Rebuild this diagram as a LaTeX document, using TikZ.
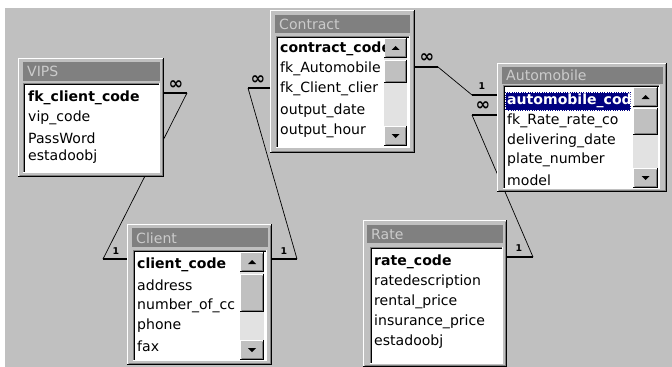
\documentclass[tikz,border=0pt]{standalone}
\usepackage{fontspec}
\setmainfont{DejaVu Sans}
\usetikzlibrary{arrows,positioning}
\definecolor{wingray}{HTML}{C0C0C0}
\definecolor{windark}{HTML}{808080}
\definecolor{winnavy}{HTML}{000080}
\definecolor{wintrack}{HTML}{E2E2E2}
\definecolor{captext}{HTML}{CBCBCB}
\tikzstyle{field}=[anchor=west,inner sep=0pt,font=\fontsize{12}{14}\selectfont]
\tikzstyle{keyfield}=[field,font=\fontsize{12}{14}\selectfont\bfseries]
\tikzstyle{caption}=[anchor=west,inner sep=0pt,text=captext,font=\fontsize{12}{14}\selectfont]
\tikzstyle{stub}=[line width=2.4pt]
\tikzstyle{link}=[line width=0.6pt]
\tikzstyle{many}=[inner sep=0pt,font=\fontsize{15}{15}\selectfont\bfseries]
\tikzstyle{one}=[inner sep=0pt,font=\fontsize{8}{8}\selectfont\bfseries]

% raised 3d frame: x1 y1 x2 y2 (y grows downwards)
\newcommand{\raisedrect}[4]{%
  \fill[wingray] (#1,#2) rectangle (#3,#4);
  \draw[white,line width=0.9pt] (#1+0.5,#4-1) -- (#1+0.5,#2+0.5) -- (#3-1,#2+0.5);
  \draw[black,line width=0.9pt] (#1,#4-0.5) -- (#3-0.5,#4-0.5) -- (#3-0.5,#2);
  \draw[windark,line width=0.9pt] (#1+1.5,#4-1.5) -- (#3-1.5,#4-1.5) -- (#3-1.5,#2+1.5);
}
% sunken list box
\newcommand{\sunkenrect}[4]{%
  \fill[white] (#1,#2) rectangle (#3,#4);
  \draw[windark,line width=0.9pt] (#1+0.5,#4) -- (#1+0.5,#2+0.5) -- (#3,#2+0.5);
  \draw[black,line width=0.9pt] (#1+1.5,#4-1) -- (#1+1.5,#2+1.5) -- (#3-1,#2+1.5);
  \draw[white,line width=0.9pt] (#1,#4-0.5) -- (#3-0.5,#4-0.5) -- (#3-0.5,#2);
}
% scroll bar: x1 x2 ytop ybottom thumbtop thumbbottom
\newcommand{\scrollbar}[6]{%
  \fill[wintrack] (#1,#3) rectangle (#2,#4);
  \raisedrect{#1}{#3}{#2}{#3+20}
  \raisedrect{#1}{#4-20}{#2}{#4}
  \raisedrect{#1}{#5}{#2}{#6}
  \fill[black] ({(#1+#2)/2-4},#3+12) -- ++(8,0) -- ++(-4,-4) -- cycle;
  \fill[black] ({(#1+#2)/2-4},#4-12) -- ++(8,0) -- ++(-4,4) -- cycle;
}

\begin{document}
\begin{tikzpicture}[x=0.03cm,y=-0.03cm]
\useasboundingbox (0,0) rectangle (672,367);
\fill[white] (0,0) rectangle (672,367);
\fill[wingray] (5,8) rectangle (672,367);

% stub ends
\coordinate (vipsEnd)    at (187,93);
\coordinate (conLEnd)    at (248,88);
\coordinate (conREnd)    at (438,67);
\coordinate (autoOneEnd) at (472,95);
\coordinate (autoManyEnd) at (472,115);
\coordinate (cliLEnd)    at (103,259);
\coordinate (cliREnd)    at (297,259);
\coordinate (rateEnd)    at (533,257);

% relationship lines
\draw[link] (vipsEnd) -- (cliLEnd);
\draw[link] (conLEnd) -- (cliREnd);
\draw[link] (conREnd) -- (autoOneEnd);
\draw[link] (autoManyEnd) -- (rateEnd);

% VIPS
\raisedrect{18}{58}{164}{177}
\fill[windark] (23,62) rectangle (160,81);
\node[caption] (vipsTitle) at (27,71.5) {VIPS};
\sunkenrect{23}{83}{160}{173}
\begin{scope}
\clip (25,85) rectangle (158,171);
\node[keyfield] (vips1) at (28,98)  {fk\_client\_code};
\node[field]    (vips2) at (28,118) {vip\_code};
\node[field]    (vips3) at (28,138) {PassWord};
\node[field]    (vips4) at (28,157) {estadoobj};
\end{scope}

% Contract
\raisedrect{270}{10}{415}{153}
\fill[windark] (275,15) rectangle (410,33);
\node[caption] (conTitle) at (279,24) {Contract};
\sunkenrect{276}{36}{410}{148}
\scrollbar{384}{407}{38}{146}{60}{83}
\begin{scope}
\clip (278,38) rectangle (384,146);
\node[keyfield] (con1) at (280,49)  {contract\_code};
\node[field]    (con2) at (280,69)  {fk\_Automobile};
\node[field]    (con3) at (280,89)  {fk\_Client\_clier};
\node[field]    (con4) at (280,111) {output\_date};
\node[field]    (con5) at (280,131) {output\_hour};
\end{scope}

% Automobile
\raisedrect{497}{63}{667}{192}
\fill[windark] (502,67) rectangle (663,84);
\node[caption] (autoTitle) at (506,75.5) {Automobile};
\sunkenrect{503}{85}{660}{189}
\scrollbar{633}{658}{87}{188}{108}{135}
\fill[winnavy] (505,92) rectangle (631,111);
\draw[white,densely dotted,line width=0.5pt] (505.5,92.5) rectangle (630.5,110.5);
\begin{scope}
\clip (505,87) rectangle (633,187);
\node[keyfield,text=white] (auto1) at (507,101) {automobile\_code};
\node[field] (auto2) at (507,121) {fk\_Rate\_rate\_co};
\node[field] (auto3) at (507,141) {delivering\_date};
\node[field] (auto4) at (507,160) {plate\_number};
\node[field] (auto5) at (507,180) {model};
\end{scope}

% Client
\raisedrect{127}{224}{272}{365}
\fill[windark] (132,228) rectangle (268,247);
\node[caption] (cliTitle) at (136,238) {Client};
\sunkenrect{133}{250}{267}{361}
\scrollbar{240}{264}{252}{360}{274}{312}
\begin{scope}
\clip (135,252) rectangle (240,359);
\node[keyfield] (cli1) at (137,265) {client\_code};
\node[field]    (cli2) at (137,285) {address};
\node[field]    (cli3) at (137,306) {number\_of\_cc};
\node[field]    (cli4) at (137,326) {phone};
\node[field]    (cli5) at (137,346) {fax};
\end{scope}

% Rate
\raisedrect{363}{220}{507}{367}
\fill[windark] (367,225) rectangle (503,243);
\node[caption] (rateTitle) at (371,234) {Rate};
\sunkenrect{370}{247}{503}{364}
\begin{scope}
\clip (372,249) rectangle (501,362);
\node[keyfield] (rate1) at (374,262) {rate\_code};
\node[field]    (rate2) at (374,282) {ratedescription};
\node[field]    (rate3) at (374,302) {rental\_price};
\node[field]    (rate4) at (374,322) {insurance\_price};
\node[field]    (rate5) at (374,342) {estadoobj};
\end{scope}

% stubs and cardinalities
\draw[stub] (164,93) -- (vipsEnd);
\node[many] (vipsMany) at (176,85) {∞};
\draw[stub] (270,88) -- (conLEnd);
\node[many] (conLMany) at (258,80) {∞};
\draw[stub] (415,67) -- (conREnd);
\node[many] (conRMany) at (427,58) {∞};
\draw[stub] (497,95) -- (autoOneEnd);
\node[one] (autoOne) at (482,86) {1};
\draw[stub] (497,115) -- (autoManyEnd);
\node[many] (autoMany) at (483,106) {∞};
\draw[stub] (127,259) -- (cliLEnd);
\node[one] (cliLOne) at (116,251) {1};
\draw[stub] (272,259) -- (cliREnd);
\node[one] (cliROne) at (284,251) {1};
\draw[stub] (507,257) -- (rateEnd);
\node[one] (rateOne) at (519,248) {1};
\end{tikzpicture}
\end{document}
